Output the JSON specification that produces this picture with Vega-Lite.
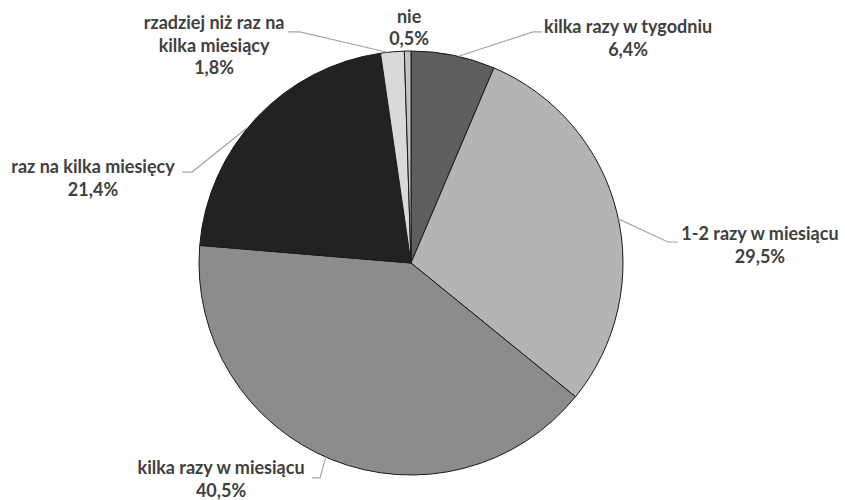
{
  "$schema": "https://vega.github.io/schema/vega-lite/v6.json",
  "width": 822,
  "height": 474,
  "autosize": {"type": "none"},
  "padding": {"left": 0, "top": 26, "right": 23, "bottom": 0},
  "background": "white",
  "config": {"view": {"stroke": null}},
  "datasets": {
    "udzialy": [
      {"nazwa": "kilka razy w tygodniu", "procent": 6.4, "kolejnosc": 1},
      {"nazwa": "1-2 razy w miesiącu", "procent": 29.5, "kolejnosc": 2},
      {"nazwa": "kilka razy w miesiącu", "procent": 40.5, "kolejnosc": 3},
      {"nazwa": "raz na kilka miesięcy", "procent": 21.4, "kolejnosc": 4},
      {"nazwa": "rzadziej niż raz na\nkilka miesiący", "procent": 1.8, "kolejnosc": 5},
      {"nazwa": "nie", "procent": 0.5, "kolejnosc": 6}
    ],
    "etykiety": [
      {"nazwa": "kilka razy w tygodniu", "lx": 1.024, "ly": 1.108},
      {"nazwa": "1-2 razy w miesiącu", "lx": 1.646, "ly": 0.132},
      {"nazwa": "kilka razy w miesiącu", "lx": -0.896, "ly": -0.972},
      {"nazwa": "raz na kilka miesięcy", "lx": -1.5, "ly": 0.448},
      {"nazwa": "rzadziej niż raz na\nkilka miesiący", "lx": -0.929, "ly": 1.127},
      {"nazwa": "nie", "lx": -0.009, "ly": 1.156}
    ],
    "linie": [
      {"nazwa": "kilka razy w tygodniu", "krok": 1, "px": 0.224, "py": 0.975},
      {"nazwa": "kilka razy w tygodniu", "krok": 2, "px": 0.575, "py": 1.09},
      {"nazwa": "kilka razy w tygodniu", "krok": 3, "px": 0.618, "py": 1.09},
      {"nazwa": "1-2 razy w miesiącu", "krok": 1, "px": 0.978, "py": 0.208},
      {"nazwa": "1-2 razy w miesiącu", "krok": 2, "px": 1.212, "py": 0.099},
      {"nazwa": "1-2 razy w miesiącu", "krok": 3, "px": 1.259, "py": 0.099},
      {"nazwa": "kilka razy w miesiącu", "krok": 1, "px": -0.402, "py": -0.916},
      {"nazwa": "kilka razy w miesiącu", "krok": 2, "px": -0.429, "py": -1.014},
      {"nazwa": "kilka razy w miesiącu", "krok": 3, "px": -0.467, "py": -1.014},
      {"nazwa": "raz na kilka miesięcy", "krok": 1, "px": -0.774, "py": 0.637},
      {"nazwa": "raz na kilka miesięcy", "krok": 2, "px": -1.033, "py": 0.429},
      {"nazwa": "raz na kilka miesięcy", "krok": 3, "px": -1.08, "py": 0.429},
      {"nazwa": "rzadziej niż raz na\nkilka miesiący", "krok": 1, "px": -0.112, "py": 0.994},
      {"nazwa": "rzadziej niż raz na\nkilka miesiący", "krok": 2, "px": -0.524, "py": 1.09},
      {"nazwa": "rzadziej niż raz na\nkilka miesiący", "krok": 3, "px": -0.58, "py": 1.09}
    ]
  },
  "layer": [
    {
      "data": {"name": "udzialy"},
      "mark": {"type": "arc", "outerRadius": 212, "stroke": "#1a1a1a", "strokeWidth": 1},
      "encoding": {
        "theta": {"field": "procent", "type": "quantitative", "stack": true},
        "order": {"field": "kolejnosc", "type": "quantitative"},
        "color": {
          "field": "nazwa",
          "type": "nominal",
          "legend": null,
          "scale": {
            "domain": ["kilka razy w tygodniu", "1-2 razy w miesiącu", "kilka razy w miesiącu", "raz na kilka miesięcy", "rzadziej niż raz na\nkilka miesiący", "nie"],
            "range": ["#5e5e5e", "#b4b4b4", "#8c8c8c", "#222222", "#d9d9d9", "#c4c4c4"]
          }
        }
      }
    },
    {
      "data": {"name": "linie"},
      "mark": {"type": "line", "color": "#a6a6a6", "strokeWidth": 1.2},
      "encoding": {
        "x": {"field": "px", "type": "quantitative", "axis": null, "scale": {"domain": [-1.9387, 1.9387], "nice": false, "zero": false}},
        "y": {"field": "py", "type": "quantitative", "axis": null, "scale": {"domain": [-1.1179, 1.1179], "nice": false, "zero": false}},
        "detail": {"field": "nazwa"},
        "order": {"field": "krok", "type": "quantitative"}
      }
    },
    {
      "data": {"name": "udzialy"},
      "transform": [
        {"lookup": "nazwa", "from": {"data": {"name": "etykiety"}, "key": "nazwa", "fields": ["lx", "ly"]}},
        {"calculate": "datum.nazwa + '\\n' + replace(format(datum.procent, '.1f'), '.', ',') + '%'", "as": "tekst"}
      ],
      "mark": {"type": "text", "font": "Lato", "fontWeight": "bold", "fontSize": 18, "color": "#404040", "align": "center", "baseline": "middle", "lineBreak": "\n", "lineHeight": 22.5},
      "encoding": {
        "x": {"field": "lx", "type": "quantitative", "axis": null, "scale": {"domain": [-1.9387, 1.9387], "nice": false, "zero": false}},
        "y": {"field": "ly", "type": "quantitative", "axis": null, "scale": {"domain": [-1.1179, 1.1179], "nice": false, "zero": false}},
        "text": {"field": "tekst"}
      }
    }
  ]
}
